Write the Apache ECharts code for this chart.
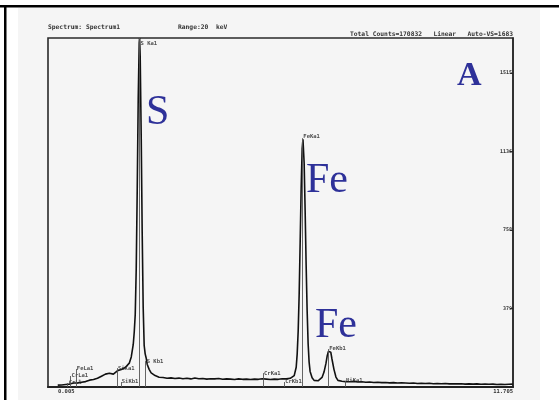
<!DOCTYPE html>
<html>
<head>
<meta charset="utf-8">
<script src="https://cdn.jsdelivr.net/npm/echarts@6/dist/echarts.min.js"></script>
<style>html,body{margin:0;padding:0;background:#fff}#c{width:559px;height:400px}</style>
</head>
<body>
<div id="c"></div>
<script>
// ---- Spectrum data (energy in keV, counts) ----
const energyKeV = [
  0.25,0.30,0.35,0.40,0.45,0.50,0.55,0.60,0.65,0.70,0.75,0.80,0.85,0.90,0.95,1.00,1.05,1.10,1.15,1.20,
  1.25,1.30,1.35,1.40,1.45,1.50,1.55,1.60,1.65,1.70,1.75,1.80,1.85,1.90,1.95,2.00,2.05,2.10,
  2.15,2.175,2.20,2.225,2.25,2.275,2.30,2.31,2.325,2.35,2.375,2.40,2.425,2.45,2.475,2.50,2.55,2.60,2.65,2.70,2.75,2.80,
  2.9,3.0,3.1,3.2,3.3,3.4,3.5,3.6,3.7,3.8,3.9,4.0,4.1,4.2,4.3,4.4,4.5,4.6,4.7,4.8,4.9,5.0,5.1,5.2,5.3,5.4,5.5,5.6,5.7,5.8,5.9,6.0,6.1,6.15,
  6.20,6.25,6.275,6.30,6.325,6.35,6.375,6.40,6.42,6.45,6.475,6.50,6.525,6.55,6.575,6.60,6.65,6.70,6.75,6.80,
  6.85,6.90,6.95,7.00,7.03,7.06,7.09,7.12,7.15,7.20,7.25,7.30,7.35,
  7.4,7.5,7.6,7.7,7.8,7.9,8.0,8.1,8.2,8.3,8.4,8.5,8.6,8.7,8.8,8.9,9.0,9.1,9.2,9.3,9.4,9.5,9.6,9.7,9.8,9.9,
  10.0,10.1,10.2,10.3,10.4,10.5,10.6,10.7,10.8,10.9,11.0,11.1,11.2,11.3,11.4,11.5,11.6,11.7
];
const counts = [
  9,11,10,13,12,15,14,17,19,21,20,24,23,27,26,30,33,31,36,39,
  42,47,52,55,62,70,66,60,62,68,78,80,84,88,94,100,115,145,
  205,265,350,570,950,1390,1660,1683,1590,1215,745,385,200,160,140,110,85,68,60,55,50,47,
  46,42,44,41,43,40,42,39,43,40,41,38,40,39,41,37,39,38,36,39,37,38,36,38,37,40,38,36,38,37,40,39,42,45,
  55,95,160,270,450,700,960,1150,1195,1080,850,590,370,210,120,75,45,32,28,30,
  36,46,72,115,150,172,180,168,135,85,48,32,27,
  28,26,25,27,24,25,23,24,22,23,21,22,20,21,19,20,19,18,19,17,18,17,18,16,17,16,
  17,15,16,15,16,14,15,14,15,13,14,13,14,12,13,12,13,14
];

// ---- Element line markers ----
const markerNames    = ["S Ka1","S Kb1","SiKa1","SiKb1","FeLa1","CrLa1","CrLl","CrKa1","CrKb1","FeKa1","FeKb1","NiKa1"];
const markerEnergies = [2.308, 2.464, 1.740, 1.836, 0.705, 0.573, 0.500, 5.415, 5.947, 6.404, 7.058, 7.478];
const markerHeights  = [1683, 125, 91, 24, 87, 53, 19, 67, 24, 1200, 183, 29];
const markerLabelAt  = [1655, 125, 91, 24, 87, 53, 19, 67, 24, 1207, 183, 29];

// ---- Axis ----
const xRange = [0.005, 11.705];
const yMax = 1683;
const yTickValues = [379, 758, 1136, 1515];

// ---- Header / annotations ----
const headerLeft = "Spectrum: Spectrum1";
const headerMid = "Range:20  keV";
const headerRight = "Total Counts=170832   Linear   Auto-VS=1683";

const spectrum = energyKeV.map((e, i) => [e, counts[i]]);
const smallFont = 'DejaVu Sans Mono';

const chart = echarts.init(document.getElementById('c'), null, {renderer: 'canvas'});
chart.setOption({
  backgroundColor: '#ffffff',
  animation: false,
  grid: {left: 48, top: 38, width: 465, height: 349, show: true, borderColor: '#2a2a2a', borderWidth: 1.6, backgroundColor: 'transparent'},
  xAxis: {
    type: 'value', min: xRange[0], max: xRange[1],
    axisLine: {show: true, onZero: false, lineStyle: {color: '#222', width: 2.2}},
    axisTick: {show: false},
    splitLine: {show: false},
    axisLabel: {
      customValues: xRange, fontSize: 5.5, fontFamily: smallFont, fontWeight: 'bold', color: '#333', margin: 2,
      alignMinLabel: 'left', alignMaxLabel: 'right', padding: [0, 0, 0, 10],
      formatter: v => v.toFixed(3)
    }
  },
  yAxis: {
    type: 'value', position: 'right', min: 0, max: yMax,
    axisLine: {show: true, lineStyle: {color: '#2a2a2a', width: 1.6}},
    axisTick: {show: true, inside: true, length: 3, customValues: yTickValues, lineStyle: {color: '#222'}},
    splitLine: {show: false},
    axisLabel: {inside: true, customValues: yTickValues, fontSize: 5, fontFamily: smallFont, fontWeight: 'bold', color: '#333', margin: 1,
      formatter: v => String(Math.round(v))}
  },
  series: [
    {
      type: 'line', data: spectrum, symbol: 'none', z: 3,
      lineStyle: {color: '#111', width: 1.6},
      markLine: {
        symbol: 'none', silent: true, animation: false,
        lineStyle: {color: '#555', width: 0.9, type: 'solid'},
        label: {show: false},
        data: markerEnergies.map((e, i) => [{coord: [e, 0]}, {coord: [e, markerHeights[i]]}])
      }
    },
    {
      type: 'scatter', symbolSize: 0, z: 4, silent: true,
      data: markerEnergies.map((e, i) => [e, markerLabelAt[i]]),
      label: {
        show: true, position: 'right', distance: 1,
        fontSize: 5.5, fontFamily: smallFont, fontWeight: 'bold', color: '#222',
        formatter: p => markerNames[p.dataIndex]
      }
    }
  ],
  graphic: [
    {type: 'rect', z: -100, silent: true, shape: {x: 18, y: 8, width: 522, height: 392}, style: {fill: '#f5f5f5'}},
    {type: 'rect', z: 100, silent: true, shape: {x: 0, y: 5, width: 559, height: 2.5}, style: {fill: '#000'}},
    {type: 'rect', z: 100, silent: true, shape: {x: 4, y: 5, width: 2.5, height: 395}, style: {fill: '#000'}},
    {type: 'text', z: 100, silent: true, style: {text: headerLeft, x: 48, y: 27, font: 'bold 6.3px DejaVu Sans Mono', fill: '#333', align: 'left', verticalAlign: 'middle'}},
    {type: 'text', z: 100, silent: true, style: {text: headerMid, x: 178, y: 27, font: 'bold 6.3px DejaVu Sans Mono', fill: '#333', align: 'left', verticalAlign: 'middle'}},
    {type: 'text', z: 100, silent: true, style: {text: headerRight, x: 513, y: 34, font: 'bold 6.3px DejaVu Sans Mono', fill: '#333', align: 'right', verticalAlign: 'middle'}},
    {type: 'text', z: 100, silent: true, style: {text: 'S', x: 146, y: 113, font: '42px "Liberation Serif"', fill: '#2e3199', align: 'left', verticalAlign: 'middle'}},
    {type: 'text', z: 100, silent: true, style: {text: 'A', x: 457, y: 76, font: 'bold 34px "Liberation Serif"', fill: '#2e3199', align: 'left', verticalAlign: 'middle'}},
    {type: 'text', z: 100, silent: true, style: {text: 'Fe', x: 306, y: 181, font: '42px "Liberation Serif"', fill: '#2e3199', align: 'left', verticalAlign: 'middle'}},
    {type: 'text', z: 100, silent: true, style: {text: 'Fe', x: 315, y: 326, font: '42px "Liberation Serif"', fill: '#2e3199', align: 'left', verticalAlign: 'middle'}}
  ]
});
</script>
</body>
</html>
